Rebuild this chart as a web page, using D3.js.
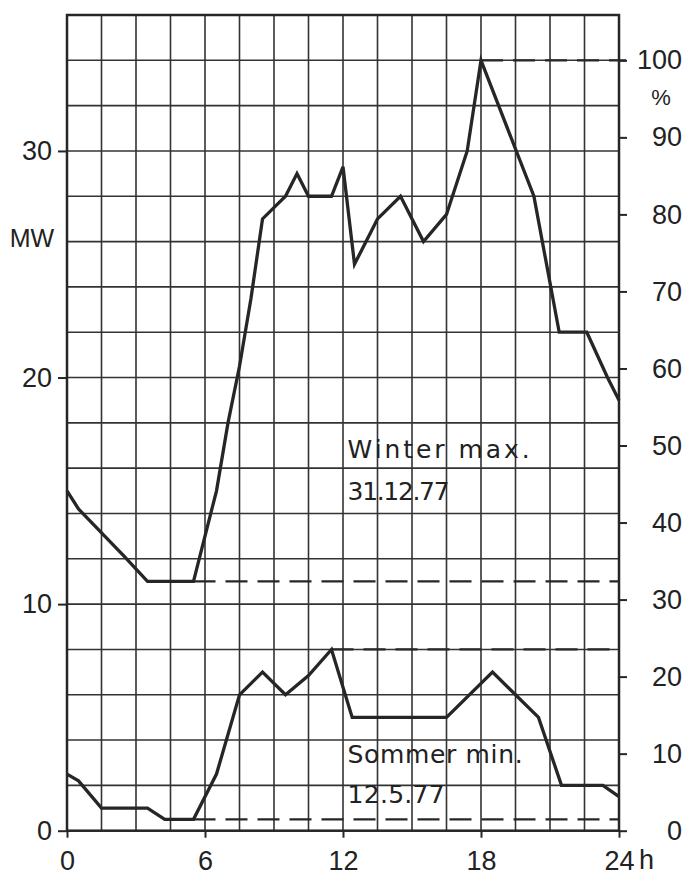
<!DOCTYPE html>
<html>
<head>
<meta charset="utf-8">
<script src="https://cdn.jsdelivr.net/npm/d3@7"></script>
<style>
  html, body { margin: 0; padding: 0; background: #fff; }
  svg { display: block; }
</style>
</head>
<body>
<svg id="chart" width="684" height="881"></svg>
<script>
// ---- data ----
const winterHours = [0, 0.5, 2.5, 3.5, 5.5, 6.5, 7, 7.5, 8, 8.5, 9.5, 10, 10.5, 11.5, 12, 12.5, 13.5, 14.5, 15.5, 16.5, 17.4, 18, 20.3, 21.4, 22.6, 23.5, 24];
const winterMW    = [15, 14.2, 12.1, 11, 11, 15, 18, 20.5, 23.5, 27, 28, 29, 28, 28, 29.3, 25, 27, 28, 26, 27.2, 30, 34, 28, 22, 22, 20, 19];
const summerHours = [0, 0.5, 1.5, 3.5, 4.25, 5.5, 6.5, 7.5, 8.5, 9.5, 10.5, 11.5, 12.4, 16.5, 18.5, 20.5, 21.5, 23.3, 24];
const summerMW    = [2.5, 2.2, 1, 1, 0.5, 0.5, 2.5, 6, 7, 6, 6.85, 8, 5, 5, 7, 5, 2, 2, 1.5];
const mwTicks   = [0, 10, 20, 30];
const pctTicks  = [0, 10, 20, 30, 40, 50, 60, 70, 80, 90, 100];
const hourTicks = [0, 6, 12, 18, 24];
const refLines  = [ // dashed reference lines: [startHour, MW]
  {h: 18,  mw: 34,  overshoot: true},
  {h: 5.5, mw: 11},
  {h: 11.5, mw: 8},
  {h: 5.5, mw: 0.5}
];
const labels = [
  {text: "Winter max.", h: 12.2, mw: 16.45, len: 182},
  {text: "31.12.77",    h: 12.2, mw: 14.6,  len: 102},
  {text: "Sommer min.", h: 12.2, mw: 2.98,  len: 175},
  {text: "12.5.77",     h: 12.2, mw: 1.22,  len: 97}
];
const fullMW = 34; // 100 %

// ---- layout ----
const svg = d3.select("#chart");
const x = d3.scaleLinear().domain([0, 24]).range([67, 619]);
const y = d3.scaleLinear().domain([0, 36]).range([830.7, 15]);
const yPct = d3.scaleLinear().domain([0, 100]).range([y(0), y(fullMW)]);
const ink = "#262626";
const font = "'Liberation Sans', Arial, sans-serif";

// grid
const grid = svg.append("g").attr("stroke", "#333").attr("stroke-width", 1.6);
grid.selectAll("line.v").data(d3.range(0, 24.01, 1.5)).join("line")
  .attr("x1", d => x(d)).attr("x2", d => x(d))
  .attr("y1", y(36)).attr("y2", y(0));
grid.selectAll("line.h").data(d3.range(0, 36.01, 2)).join("line")
  .attr("x1", x(0)).attr("x2", x(24))
  .attr("y1", d => y(d)).attr("y2", d => y(d));

// frame
svg.append("rect").attr("x", x(0)).attr("y", y(36))
  .attr("width", x(24) - x(0)).attr("height", y(0) - y(36))
  .attr("fill", "none").attr("stroke", ink).attr("stroke-width", 2.5);

// axes
function styleAxis(g) {
  g.select(".domain").remove();
  g.selectAll(".tick line").attr("stroke", ink).attr("stroke-width", 2);
  g.selectAll(".tick text").attr("fill", "#222").style("font-family", font).style("font-size", "27px");
}
const axL = svg.append("g").attr("transform", `translate(${x(0)},0)`)
  .call(d3.axisLeft(y).tickValues(mwTicks).tickSize(9).tickPadding(6).tickFormat(d3.format("d")));
styleAxis(axL);

const axR = svg.append("g").attr("transform", `translate(${x(24)},0)`)
  .call(d3.axisRight(yPct).tickValues(pctTicks).tickSize(8).tickFormat(d3.format("d")));
styleAxis(axR);
axR.selectAll(".tick text").attr("text-anchor", "end").attr("x", 63);

const axB = svg.append("g").attr("transform", `translate(0,${y(0)})`)
  .call(d3.axisBottom(x).tickValues(hourTicks).tickSize(7).tickFormat(d3.format("d")));
styleAxis(axB);
axB.selectAll(".tick text").attr("dy", null).attr("y", 39);

// extra unit labels
svg.append("text").attr("x", x(24) + 20).attr("y", 869)
  .style("font-family", font).style("font-size", "27px").attr("fill", "#222").text("h");
svg.append("text").attr("x", 32).attr("y", 247).attr("text-anchor", "middle")
  .style("font-family", font).style("font-size", "25px").attr("fill", "#222").text("MW");
svg.append("text").attr("x", 661).attr("y", 105).attr("text-anchor", "middle")
  .style("font-family", font).style("font-size", "22px").attr("fill", "#222").text("%");

// dashed reference lines
svg.append("g").selectAll("line").data(refLines).join("line")
  .attr("x1", d => x(d.h)).attr("x2", d => d.overshoot ? x(24) + 7 : x(24))
  .attr("y1", d => y(d.mw)).attr("y2", d => y(d.mw))
  .attr("stroke", ink).attr("stroke-width", 2.2).attr("stroke-dasharray", "22,10");

// curves
const line = d3.line().x(d => x(d[0])).y(d => y(d[1]));
const winter = winterHours.map((h, i) => [h, winterMW[i]]);
const summer = summerHours.map((h, i) => [h, summerMW[i]]);
svg.append("g").selectAll("path").data([winter, summer]).join("path")
  .attr("d", line).attr("fill", "none").attr("stroke", ink)
  .attr("stroke-width", 3.3).attr("stroke-linejoin", "miter");

// labels
svg.append("g").selectAll("text").data(labels).join("text")
  .attr("x", d => x(d.h)).attr("y", d => y(d.mw))
  .attr("textLength", d => d.len).attr("lengthAdjust", "spacing")
  .style("font-family", "'DejaVu Sans', sans-serif").style("font-size", "25px")
  .attr("fill", "#222").text(d => d.text);
</script>
</body>
</html>
